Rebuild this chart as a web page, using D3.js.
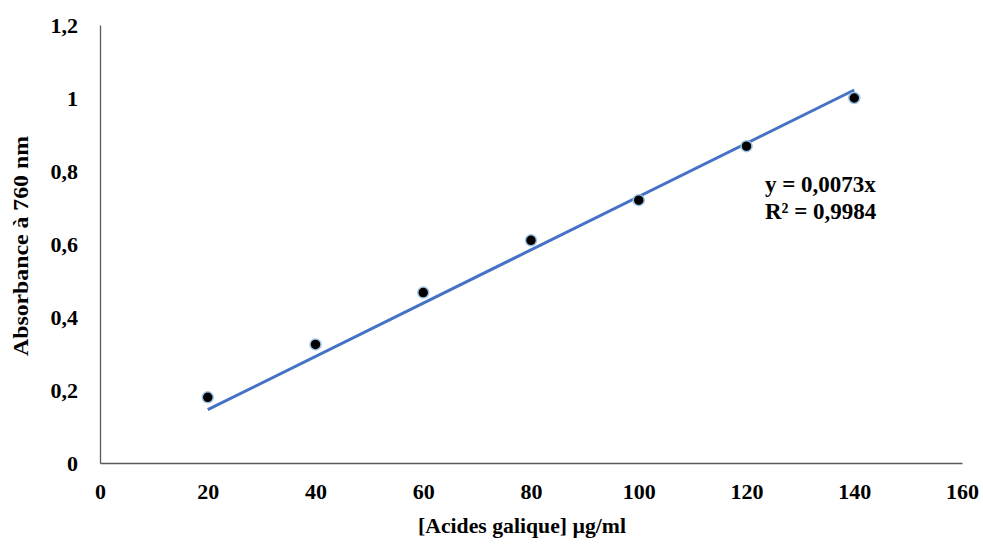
<!DOCTYPE html>
<meta charset="utf-8">
<style>
  body { margin: 0; background: #fff; }
  text { font-family: "Liberation Serif", "Times New Roman", serif; font-weight: bold; fill: #000; }
</style>
<svg width="983" height="546"></svg>
<script src="https://d3js.org/d3.v7.min.js"></script>
<script>

// concentrations (µg/ml) and absorbances
var conc = [20, 40, 60, 80, 100, 120, 140];
var absorb = [0.18, 0.325, 0.467, 0.61, 0.72, 0.868, 1.0];
var slope = 0.0073;
var xTicks = [0, 20, 40, 60, 80, 100, 120, 140, 160];
var yTicks = [0, 0.2, 0.4, 0.6, 0.8, 1, 1.2];

var margin = {top: 25, right: 21, bottom: 83, left: 100},
    width = 983 - margin.left - margin.right,
    height = 546 - margin.top - margin.bottom;

var svg = d3.select("svg"),
    g = svg.append("g").attr("transform", "translate(" + margin.left + "," + margin.top + ")");

var x = d3.scaleLinear().domain([0, 160]).range([0, width]);
var y = d3.scaleLinear().domain([0, 1.2]).range([height, 0]);

var fmt = function(d) { return String(d).replace(".", ","); };

// axes, no tick marks
var xAxis = g.append("g")
    .attr("transform", "translate(0," + height + ")")
    .call(d3.axisBottom(x).tickValues(xTicks).tickSize(0).tickPadding(20).tickFormat(fmt));
var yAxis = g.append("g")
    .call(d3.axisLeft(y).tickValues(yTicks).tickSize(0).tickPadding(22).tickFormat(fmt));

[xAxis, yAxis].forEach(function(a) {
  a.select(".domain").attr("stroke", "#595959").attr("stroke-width", 1.3);
  a.selectAll("text").attr("font-size", 22).attr("font-family", null);
});

// trend line y = 0.0073x
g.append("line")
    .attr("x1", x(20)).attr("y1", y(slope * 20))
    .attr("x2", x(140)).attr("y2", y(slope * 140))
    .attr("stroke", "#4472c4")
    .attr("stroke-width", 3);

g.selectAll(".pt")
  .data(conc)
  .enter().append("circle")
    .attr("class", "pt")
    .attr("cx", function(d) { return x(d); })
    .attr("cy", function(d, i) { return y(absorb[i]); })
    .attr("r", 5.5)
    .attr("fill", "#000")
    .attr("stroke", "#9dc3e6")
    .attr("stroke-width", 1.5);

// equation
g.append("text").attr("x", 665).attr("y", 167).attr("font-size", 23).text("y = 0,0073x");
g.append("text").attr("x", 665).attr("y", 194).attr("font-size", 23).text("R² = 0,9984");

// axis titles
svg.append("text")
    .attr("text-anchor", "middle")
    .attr("transform", "translate(28," + (margin.top + height / 2 + 2) + ")rotate(-90)")
    .attr("font-size", 22)
    .attr("textLength", 220)
    .attr("lengthAdjust", "spacingAndGlyphs")
    .text("Absorbance à 760 nm");

svg.append("text")
    .attr("text-anchor", "middle")
    .attr("x", 522)
    .attr("y", 533)
    .attr("font-size", 22)
    .attr("textLength", 208)
    .attr("lengthAdjust", "spacingAndGlyphs")
    .text("[Acides galique] µg/ml");

</script>
